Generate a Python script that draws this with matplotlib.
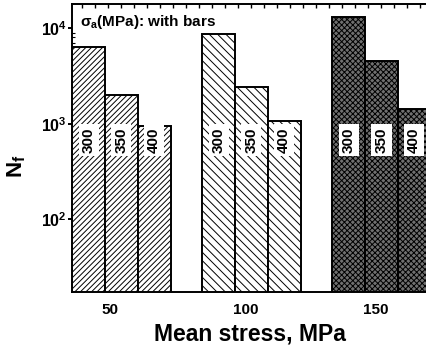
import numpy as np
import matplotlib
matplotlib.use("Agg")
import matplotlib.pyplot as plt
from matplotlib.ticker import FixedLocator, MultipleLocator

# Schrift: Arial-artig, fett
plt.rcParams['font.family'] = ['Liberation Sans', 'DejaVu Sans']
plt.rcParams['font.weight'] = 'bold'
plt.rcParams['mathtext.fontset'] = 'custom'
plt.rcParams['mathtext.rm'] = 'Liberation Sans:bold'
plt.rcParams['mathtext.bf'] = 'Liberation Sans:bold'
plt.rcParams['mathtext.it'] = 'Liberation Sans:bold'
plt.rcParams['mathtext.sf'] = 'Liberation Sans:bold'
plt.rcParams['mathtext.default'] = 'bf'
plt.rcParams['hatch.linewidth'] = 0.7

# Daten
mean_stress = [50, 100, 150]                 # Mittelspannung in MPa
amp_labels = ['300', '350', '400']           # Spannungsamplitude in MPa
Nf_50 = [6400, 2000, 950]
Nf_100 = [8700, 2400, 1080]
Nf_150 = [13000, 4550, 1420]
tick_labels = ['50', '100', '150']

Nf_all = [Nf_50, Nf_100, Nf_150]
hatches = ['//////', '\\\\\\\\', 'xxxxxx']
faces = ['white', 'white', '#707070']

breite = 12.6
offsets = [-breite, 0, breite]

fig = plt.figure(figsize=(4.26, 3.47), dpi=100)
ax = fig.add_axes([0.1697, 0.1576, 0.86, 0.831])

for g, x0 in enumerate(mean_stress):
    for i, off in enumerate(offsets):
        ax.bar(x0 + off, Nf_all[g][i], width=breite, bottom=1,
               facecolor=faces[g], edgecolor='black', hatch=hatches[g],
               linewidth=1.4, zorder=2)
        ax.text(x0 + off, 676, amp_labels[i], rotation=90, ha='center', va='center',
                fontsize=11, fontweight='bold', zorder=4,
                bbox=dict(boxstyle='square,pad=0.2', facecolor='white', edgecolor='none'))

ax.set_yscale('log')
ax.set_ylim(17.2, 17950)
ax.set_xlim(31.1, 172)

# x-Ticks: Beschriftung etwas links von der Gruppenmitte
ax.set_xticks([45.5, 97.7, 147.7])
ax.set_xticklabels(tick_labels, fontsize=11, fontweight='bold')
ax.tick_params(axis='x', which='both', bottom=False, top=True, length=0, pad=8)
ax.xaxis.set_minor_locator(MultipleLocator(5))
ax.tick_params(axis='x', which='minor', top=True, bottom=False, direction='in', length=3, width=1)

ax.yaxis.set_major_locator(FixedLocator([1e2, 1e3, 1e4]))
ax.tick_params(axis='y', which='major', direction='out', length=3, width=1.4, labelsize=11.5, pad=1)
ax.tick_params(axis='y', which='minor', direction='in', length=2, width=0.8, right=False)

for s in ax.spines.values():
    s.set_linewidth(1.4)

ax.set_ylabel('N$_f$', fontsize=16, fontweight='bold')
ax.yaxis.set_label_coords(-0.12, 0.438)
ax.set_xlabel('Mean stress, MPa', fontsize=16.5, fontweight='bold')
ax.xaxis.set_label_coords(0.485, -0.105)

ax.text(0.021, 0.939, r'$\sigma_a$(MPa): with bars', transform=ax.transAxes,
        fontsize=11, fontweight='bold', ha='left', va='center', zorder=5)

fig.savefig('out.png', dpi=100)
